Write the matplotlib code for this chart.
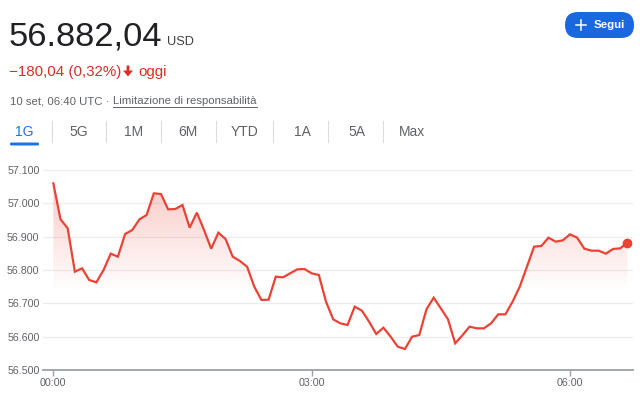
import numpy as np
import matplotlib
matplotlib.use("Agg")
import matplotlib.pyplot as plt
from matplotlib.patches import FancyBboxPatch, Polygon
from matplotlib.path import Path

plt.rcParams['font.family'] = ['Liberation Sans', 'DejaVu Sans']

# price every 5 minutes from 00:00 to 06:40 UTC
prices = [57060, 56952, 56925, 56795, 56805, 56770, 56763, 56800, 56849, 56840,
          56908, 56920, 56952, 56965, 57030, 57028, 56982, 56983, 56995, 56927,
          56972, 56920, 56864, 56912, 56893, 56840, 56827, 56810, 56750, 56710,
          56711, 56780, 56778, 56790, 56802, 56803, 56790, 56785, 56705, 56652,
          56640, 56635, 56690, 56678, 56645, 56608, 56627, 56600, 56570, 56563,
          56600, 56605, 56682, 56717, 56685, 56652, 56580, 56604, 56630, 56625,
          56625, 56640, 56667, 56667, 56705, 56750, 56810, 56870, 56872, 56897,
          56885, 56889, 56907, 56897, 56864, 56858, 56858, 56849, 56863, 56865,
          56882]
minutes = np.arange(len(prices)) * 5

y_ticks = [56500, 56600, 56700, 56800, 56900, 57000, 57100]
y_labels = ["56.500", "56.600", "56.700", "56.800", "56.900", "57.000", "57.100"]
x_ticks = [0, 180, 360]
x_labels = ["00:00", "03:00", "06:00"]
tabs = ["1G", "5G", "1M", "6M", "YTD", "1A", "5A", "Max"]
tab_x = [24, 79, 134, 188, 245, 302, 357, 412]
sep_x = [52, 106, 161, 216, 273, 328, 383]

red = '#ea4335'
blue = '#1a73e8'
dark = '#202124'
gray = '#5f6368'

fig = plt.figure(figsize=(6.4, 3.98), dpi=100)

# overlay in pixel coordinates for the header
bg = fig.add_axes([0, 0, 1, 1])
bg.set_xlim(0, 640)
bg.set_ylim(398, 0)
bg.axis('off')

bg.text(9, 46, "56.882,04", fontsize=24.8, color=dark, va='baseline')
bg.text(167, 45, "USD", fontsize=9.2, color='#3c4043', va='baseline')
bg.text(9, 76, "\u2212180,04 (0,32%)", fontsize=10.9, color='#d93025', va='baseline')
# down arrow
bg.add_patch(Polygon([(126.6, 65.5), (129.4, 65.5), (129.4, 70.5), (133, 70.5),
                      (128, 76.5), (123, 70.5), (126.6, 70.5)],
                     closed=True, color='#d93025', lw=0))
bg.text(138.5, 76, "oggi", fontsize=10.9, color='#d93025', va='baseline')
bg.text(9.5, 104, "10 set, 06:40 UTC \u00b7 ", fontsize=8.2, color=gray, va='baseline')
bg.text(113, 104, "Limitazione di responsabilità", fontsize=8.2, color=gray, va='baseline')
bg.plot([113, 257], [107, 107], color=gray, lw=0.7)

for lab, x in zip(tabs, tab_x):
    bg.text(x, 136, lab, fontsize=10, color=blue if lab == "1G" else gray,
            ha='center', va='baseline')
for x in sep_x:
    bg.plot([x, x], [121, 142], color='#dadce0', lw=0.8)
bg.add_patch(FancyBboxPatch((10, 142.5), 29, 3, boxstyle="round,pad=0,rounding_size=1.5",
                            color=blue, lw=0))

bg.add_patch(FancyBboxPatch((565, 12), 69, 26, boxstyle="round,pad=0,rounding_size=13",
                            color='#1a68e0', lw=0))
bg.plot([575.5, 585.5], [25, 25], color='white', lw=1.1)
bg.plot([580.5, 580.5], [20, 30], color='white', lw=1.1)
bg.text(594, 28.5, "Segui", fontsize=8.2, color='white', va='baseline', fontweight='semibold')

# chart
ax = fig.add_axes([43 / 640, 28 / 398, 590 / 640, 205 / 398])
ax.set_facecolor('none')
ax.set_xlim(-7.2, 403.9)
ax.set_ylim(56500, 57115)

for s in ['top', 'right', 'left']:
    ax.spines[s].set_visible(False)
ax.spines['bottom'].set_color('#9aa0a6')
ax.spines['bottom'].set_linewidth(1.3)

for yv in y_ticks[1:]:
    ax.axhline(yv, color='#ededed', lw=0.9, zorder=0)

ax.set_yticks(y_ticks)
ax.set_yticklabels(y_labels)
ax.set_xticks(x_ticks)
ax.set_xticklabels(x_labels)
ax.tick_params(axis='y', length=0, pad=2.5, labelsize=7.7, labelcolor=gray)
ax.tick_params(axis='x', length=4.5, width=1, color='#9aa0a6', pad=1.5,
               labelsize=7.7, labelcolor=gray)

p = np.array(prices, dtype=float)
base = 56735
fill = ax.fill_between(minutes, p, base, where=p >= base, interpolate=True,
                       facecolor='none', edgecolor='none')
clip = Path.make_compound_path(*fill.get_paths())
grad = np.zeros((100, 2, 4))
rgb = matplotlib.colors.to_rgb(red)
grad[..., 0], grad[..., 1], grad[..., 2] = rgb
grad[..., 3] = np.linspace(0.28, 0, 100)[:, None]
img = ax.imshow(grad, extent=[minutes[0], minutes[-1], base, 57060], origin='upper',
                aspect='auto', interpolation='bilinear', zorder=1)
img.set_clip_path(clip, ax.transData)

ax.plot(minutes, p, color=red, lw=1.6, zorder=3, solid_joinstyle='miter')
ax.plot(minutes[-1], p[-1], 'o', color=red, ms=6, zorder=4)

fig.savefig("out.png", dpi=100)
